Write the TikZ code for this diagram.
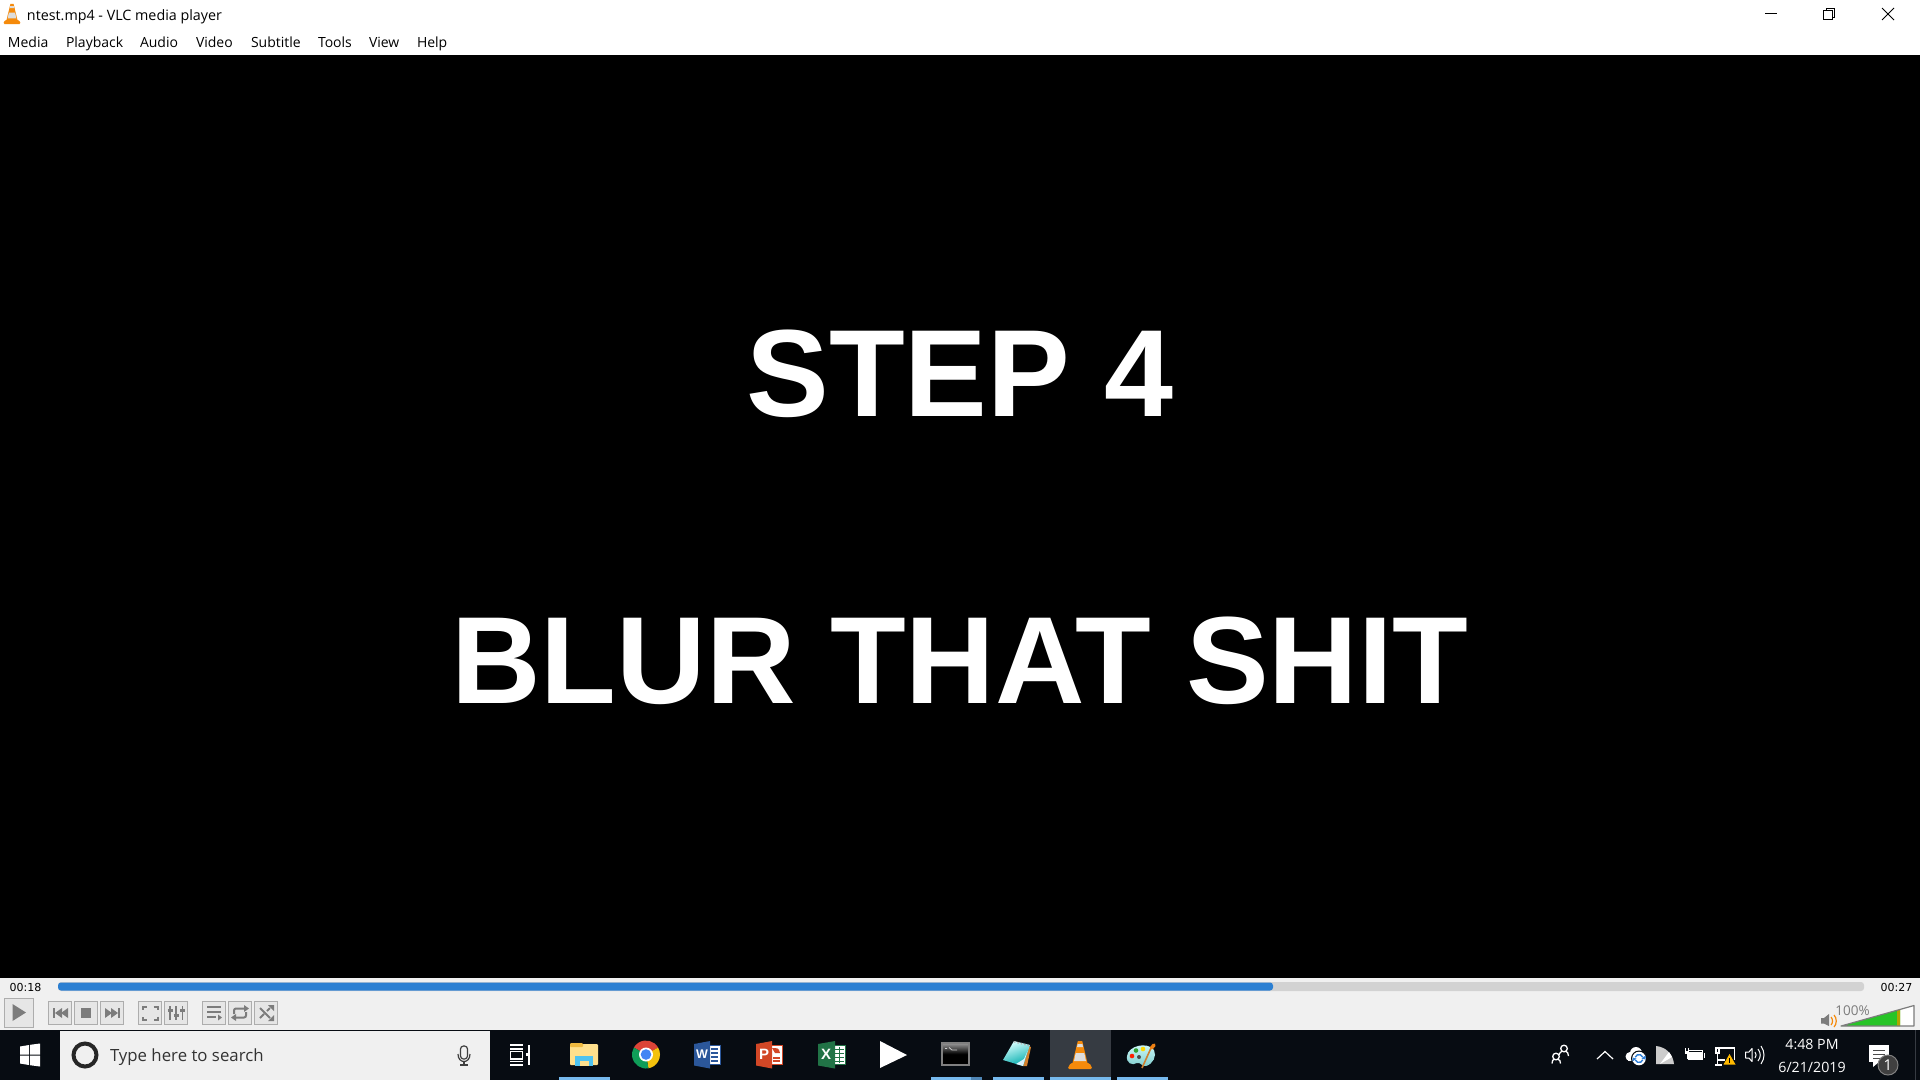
\documentclass[tikz,border=0pt]{standalone}
\usepackage{fontspec}
\setmainfont{Open Sans}
\newfontfamily\bigfont{Liberation Sans}
\newfontfamily\clockfont{DejaVu Sans}
\definecolor{panelgray}{HTML}{F0F0F0}
\definecolor{btnfill}{HTML}{E6E6E6}
\definecolor{btnline}{HTML}{ADADAD}
\definecolor{iconcol}{HTML}{7C7C7C}
\definecolor{barcol}{HTML}{070C12}
\definecolor{hilite}{HTML}{363B42}
\definecolor{underl}{HTML}{76B9ED}
\definecolor{underd}{HTML}{4F86B5}
\definecolor{blueprog}{HTML}{2B7FD2}
\definecolor{trackcol}{HTML}{D2D2D2}
\definecolor{vlcor}{HTML}{F58A0B}
\definecolor{vlcwhite}{HTML}{DDDDDD}
\definecolor{folder}{HTML}{FFE08C}
\definecolor{foldertab}{HTML}{EFB93F}
\definecolor{folderblue}{HTML}{4FC3F0}
\definecolor{wordblue}{HTML}{2B579A}
\definecolor{pptred}{HTML}{D24726}
\definecolor{xlgreen}{HTML}{217346}
\definecolor{chromered}{HTML}{DB4437}
\definecolor{chromeyellow}{HTML}{F4C20D}
\definecolor{chromegreen}{HTML}{0F9D58}
\definecolor{chromeblue}{HTML}{4285F4}
\definecolor{amber}{HTML}{FFB900}
\definecolor{volgreen}{HTML}{27C427}
\definecolor{syncblue}{HTML}{2F7FD8}
\tikzset{
  every node/.style={inner sep=0pt,outer sep=0pt},
  menuitem/.style={anchor=base west,text=black,font=\fontsize{14}{16}\selectfont},
  bigtext/.style={text=white,font=\fontsize{124}{130}\bigfont\bfseries},
  ctlbtn/.style={draw=btnline,fill=btnfill,line width=0.9pt,minimum width=23.5pt,minimum height=23.5pt},
  clock/.style={text=white,font=\fontsize{14.2}{16}\selectfont},
  trayline/.style={draw=white,line width=1.3pt,fill=none},
  vlccone/.pic={
    \fill[vlcor,rounded corners=1.5pt] (-12.5,14) -- (-9.5,8) -- (9.5,8) -- (12.5,14) -- cycle;
    \fill[vlcor] (-8,10) -- (-2.2,-14) -- (2.2,-14) -- (8,10) -- cycle;
    \fill[vlcwhite] (-4.3,-2) -- (4.3,-2) -- (6,6) -- (-6,6) -- cycle;
    \fill[vlcwhite] (-2.4,-11) -- (2.4,-11) -- (3,-8) -- (-3,-8) -- cycle;
  },
}
\begin{document}
\begin{tikzpicture}[x=1pt,y=-1pt]
\useasboundingbox (0,0) rectangle (1920,1080);
% window
\fill[white] (0,0) rectangle (1920,55);
\fill[black] (0,55) rectangle (1920,978);
\fill[panelgray] (0,978) rectangle (1920,1030);
\fill[btnline] (0,1029.5) rectangle (1920,1030.5);
\fill[barcol] (0,1030) rectangle (1920,1080);
% title bar
\pic[scale=0.72] at (12,14) {vlccone};
\node[anchor=base west,text=black,font=\fontsize{14.3}{16}\selectfont] (title) at (27,20) {ntest.mp4 - VLC media player};
\node[menuitem] (mMedia) at (8,47.5) {Media};
\node[menuitem] (mPlayback) at (66,47.5) {Playback};
\node[menuitem] (mAudio) at (140,47.5) {Audio};
\node[menuitem] (mVideo) at (196,47.5) {Video};
\node[menuitem] (mSubtitle) at (251,47.5) {Subtitle};
\node[menuitem] (mTools) at (318,47.5) {Tools};
\node[menuitem] (mView) at (369,47.5) {View};
\node[menuitem] (mHelp) at (417,47.5) {Help};
% window controls
\draw[black,line width=1pt] (1765,13.5) -- (1777,13.5);
\draw[black,line width=1pt] (1823.5,10.5) rectangle (1832.5,19.5);
\draw[black,line width=1pt] (1826,10) -- (1826,8.5) -- (1834.5,8.5) -- (1834.5,17) -- (1833,17);
\draw[black,line width=1pt] (1882,8) -- (1894,20) (1894,8) -- (1882,20);
% big text
\node[bigtext,anchor=base] (step) at (960,416.5) {STEP 4};
\node[bigtext,anchor=base] (blur) at (960,703) {BLUR THAT SHIT};
% slider
\node[anchor=center,text=black,font=\fontsize{11}{13}\clockfont] (tstart) at (25.5,987.5) {00:18};
\node[anchor=center,text=black,font=\fontsize{11}{13}\clockfont] (tend) at (1896.5,987.5) {00:27};
\fill[trackcol,rounded corners=3pt] (58,982) rectangle (1864,991);
\fill[blueprog,rounded corners=3pt] (58,982.5) rectangle (1273,990.5);
% play button
\node[draw=btnline,fill=btnfill,line width=0.9pt,minimum width=29.5pt,minimum height=29.5pt] (play) at (19,1012.7) {};
\fill[iconcol] (12.5,1004) -- (26,1012.5) -- (12.5,1021) -- cycle;
% small buttons
\node[ctlbtn] (prev) at (60,1013) {};
\node[ctlbtn] (stop) at (86,1013) {};
\node[ctlbtn] (next) at (112,1013) {};
\node[ctlbtn] (full) at (150,1013) {};
\node[ctlbtn] (eq) at (176,1013) {};
\node[ctlbtn] (plist) at (214,1013) {};
\node[ctlbtn] (loop) at (240,1013) {};
\node[ctlbtn] (shuf) at (266,1013) {};
% prev
\fill[iconcol] (53,1008) rectangle (55,1018);
\fill[iconcol] (62,1008) -- (55,1013) -- (62,1018) -- cycle;
\fill[iconcol] (68,1008) -- (61,1013) -- (68,1018) -- cycle;
% stop
\fill[iconcol] (81,1008) rectangle (91,1018);
% next
\fill[iconcol] (105,1008) -- (112,1013) -- (105,1018) -- cycle;
\fill[iconcol] (111,1008) -- (118,1013) -- (111,1018) -- cycle;
\fill[iconcol] (118,1008) rectangle (120,1018);
% fullscreen
\draw[iconcol,line width=2pt] (142.5,1009.5) -- (142.5,1006.5) -- (146.5,1006.5)
  (153.5,1006.5) -- (157.5,1006.5) -- (157.5,1009.5)
  (157.5,1016.5) -- (157.5,1019.5) -- (153.5,1019.5)
  (146.5,1019.5) -- (142.5,1019.5) -- (142.5,1016.5);
% equalizer
\draw[iconcol,line width=1.8pt] (170,1006) -- (170,1020) (176,1006) -- (176,1020) (182.5,1006) -- (182.5,1020);
\draw[iconcol,line width=3pt] (167.5,1010) -- (172.5,1010) (173.5,1015) -- (178.5,1015) (180,1010) -- (185,1010);
% playlist
\draw[iconcol,line width=2pt] (207,1007) -- (221,1007) (207,1012) -- (221,1012) (207,1017) -- (216,1017);
\fill[iconcol] (218,1014.5) -- (222,1017.5) -- (218,1020.5) -- cycle;
% loop
\draw[iconcol,line width=2pt,rounded corners=2pt] (234,1014) -- (234,1008.5) -- (245,1008.5);
\draw[iconcol,line width=2pt,rounded corners=2pt] (246,1012) -- (246,1017.5) -- (235,1017.5);
\fill[iconcol] (244,1005) -- (249,1008.5) -- (244,1012) -- cycle;
\fill[iconcol] (236,1014) -- (231,1017.5) -- (236,1021) -- cycle;
% shuffle
\draw[iconcol,line width=2pt] (260,1008) -- (270,1018) (260,1018) -- (264,1014) (267,1011) -- (270,1008);
\fill[iconcol] (268,1005) -- (274,1005) -- (274,1011) -- cycle;
\fill[iconcol] (268,1021) -- (274,1021) -- (274,1015) -- cycle;
% volume
\node[anchor=center,text=iconcol,font=\fontsize{13.5}{15}\selectfont] (volpct) at (1852.5,1011) {100\%};
\fill[white] (1841,1026) -- (1914,1005.5) -- (1914,1026) -- cycle;
\fill[volgreen] (1841,1026) -- (1900,1009.5) -- (1900,1026) -- cycle;
\fill[olive!70!yellow] (1897,1010.3) -- (1900,1009.5) -- (1900,1026) -- (1897,1026) -- cycle;
\draw[iconcol,line width=1.2pt,line join=round] (1841,1026) -- (1914,1005.5) -- (1914,1026) -- cycle;
\fill[iconcol] (1821,1018) -- (1824,1018) -- (1829,1014) -- (1829,1026) -- (1824,1023.5) -- (1821,1023.5) -- cycle;
\draw[vlcor,line width=1.2pt] (1831,1017) .. controls (1833,1019) and (1833,1023) .. (1831,1025);
\draw[vlcor,line width=1.2pt] (1834,1015) .. controls (1837,1018) and (1837,1024) .. (1834,1027);
% start + search
\fill[white] (20,1046.5) -- (29,1045) -- (29,1054.5) -- (20,1054.5) -- cycle;
\fill[white] (30,1044.8) -- (40,1043.5) -- (40,1054.5) -- (30,1054.5) -- cycle;
\fill[white] (20,1055.5) -- (29,1055.5) -- (29,1065) -- (20,1063.5) -- cycle;
\fill[white] (30,1055.5) -- (40,1055.5) -- (40,1066.5) -- (30,1065.2) -- cycle;
\fill[panelgray] (60,1030.5) rectangle (490,1080);
\draw[black!85,line width=4pt] (85,1055) circle[radius=11.5pt];
\node[anchor=base west,text=black!80,font=\fontsize{16.8}{20}\selectfont] (search) at (110,1061.5) {Type here to search};
\draw[black!75,line width=1.2pt,rounded corners=3pt] (460.5,1046) rectangle (467.5,1059);
\draw[black!75,line width=1.2pt] (458,1054) .. controls (458,1064) and (470,1064) .. (470,1054);
\draw[black!75,line width=1.2pt] (464,1062) -- (464,1065) (460,1065) -- (468,1065);
% task view
\draw[white,line width=1.2pt] (510,1045) -- (523,1045) (510,1049) -- (523,1049);
\draw[white,line width=1.2pt] (510.5,1051.5) rectangle (522.5,1059);
\draw[white,line width=1.2pt] (510,1061.5) -- (523,1061.5) (510,1065) -- (523,1065);
\draw[white,line width=1.2pt] (529,1045) -- (529,1065);
\fill[white] (526,1053) rectangle (529,1056);
% taskbar highlight & underlines
\fill[hilite] (1050,1030) rectangle (1111,1080);
\fill[underl] (559,1077) rectangle (610,1080);
\fill[underl] (931,1077) rectangle (971,1080);
\fill[underd] (971,1077) rectangle (982,1080);
\fill[underl] (993,1077) rectangle (1044,1080);
\fill[underl] (1050,1077) rectangle (1111,1080);
\fill[underl] (1117,1077) rectangle (1168,1080);
% explorer
\fill[folder,rounded corners=1pt] (570,1044) rectangle (598,1065);
\fill[foldertab,rounded corners=1pt] (570,1043) rectangle (583,1047);
\fill[folderblue] (575,1056) rectangle (593,1065.5);
\fill[folder] (579.5,1060.5) rectangle (588.5,1065.5);
% chrome
\begin{scope}[shift={(646,1054.5)}]
\fill[chromered] (0,0) -- (30:14pt) arc[start angle=30,end angle=150,radius=14pt] -- cycle;
\fill[chromeyellow] (0,0) -- (30:14pt) arc[start angle=30,end angle=-80,radius=14pt] -- cycle;
\fill[chromegreen] (0,0) -- (-80:14pt) arc[start angle=-80,end angle=-210,radius=14pt] -- cycle;
\fill[white] (0,0) circle[radius=7pt];
\fill[chromeblue] (0,0) circle[radius=5.3pt];
\end{scope}
% word
\fill[white] (706,1045) rectangle (721,1065);
\draw[wordblue,line width=0.8pt] (706,1045.4) -- (720.6,1045.4) -- (720.6,1064.6) -- (706,1064.6);
\draw[wordblue,line width=1.2pt] (711,1049) -- (718,1049) (711,1053) -- (718,1053) (711,1057) -- (718,1057) (711,1061) -- (718,1061);
\fill[wordblue] (694,1044) -- (710,1041) -- (710,1068.5) -- (694,1065.5) -- cycle;
\node[text=white,font=\fontsize{12.5}{12.5}\bigfont\bfseries] (wordw) at (702,1054.5) {W};
% powerpoint
\fill[white] (768,1045) rectangle (783,1065);
\draw[pptred,line width=0.8pt] (768,1045.4) -- (782.6,1045.4) -- (782.6,1064.6) -- (768,1064.6);
\fill[pptred] (772,1048) -- (775,1048) .. controls (779,1048) and (780,1051) .. (780,1053) -- (775,1053) -- cycle;
\draw[pptred,line width=1.2pt] (773,1058) -- (780,1058) (773,1061) -- (780,1061);
\fill[pptred] (756,1044) -- (772,1041) -- (772,1068.5) -- (756,1065.5) -- cycle;
\node[text=white,font=\fontsize{15}{15}\bigfont\bfseries] (pptp) at (764,1054.5) {P};
% excel
\fill[white] (830,1045) rectangle (846,1065);
\draw[xlgreen,line width=0.8pt] (830,1045.4) -- (845.6,1045.4) -- (845.6,1064.6) -- (830,1064.6);
\draw[xlgreen,line width=1pt] (835,1049) -- (844,1049) (835,1053) -- (844,1053) (835,1057) -- (844,1057) (835,1061) -- (844,1061) (839.5,1047) -- (839.5,1063);
\fill[xlgreen] (818,1044) -- (835,1041) -- (835,1068.5) -- (818,1065.5) -- cycle;
\node[text=white,font=\fontsize{15}{15}\bigfont\bfseries] (xlx) at (826,1054.5) {X};
% media play
\fill[white] (880,1041) -- (907,1055) -- (880,1068) -- cycle;
% cmd
\shade[top color=gray!80,bottom color=black,middle color=black] (942,1043) rectangle (969,1065);
\draw[gray,line width=1.3pt] (942,1043) rectangle (969,1065);
\draw[white!80!black,line width=0.8pt] (945,1048.5) -- (947,1048.5) (949,1047.5) -- (952,1050) -- (957,1050);
% notepad
\fill[brown!70!orange] (1026,1045) -- (1031,1047) -- (1027,1066) -- (1023,1066) -- cycle;
\shade[top color=white!85!cyan,bottom color=teal!65!cyan,shading angle=20] (1014,1041) -- (1030,1045) -- (1023,1066) -- (1003,1060) -- cycle;
\fill[white!85!cyan] (1024,1059) -- (1027.5,1051) -- (1023,1066) -- (1016,1064) -- cycle;
\draw[gray!60,line width=1.5pt,dotted] (1014,1041.8) -- (1030,1045.8);
% vlc
\pic at (1080,1055) {vlccone};
% paint
\begin{scope}[shift={(1141,1057)}]
\shade[top color=cyan!15!white,bottom color=cyan!45!gray!70!white] (-14,-1) .. controls (-13,-11) and (6,-16) .. (13,-7) .. controls (16,-1) and (12,7) .. (5,9) .. controls (1,10) and (0,5) .. (-4,6) .. controls (-9,9) and (-15,6) .. (-14,-1) -- cycle;
\fill[red!75!orange] (-9,-1) circle[radius=2.3pt];
\fill[green!55!black!80!white] (-5,-6.5) circle[radius=2.3pt];
\fill[yellow!75!orange] (2,-8) circle[radius=2.3pt];
\fill[black!70] (-2,0) circle[radius=2pt];
\draw[brown!75!orange,line width=1.6pt] (1,11) -- (10,-9);
\draw[orange!70!brown,line width=3.5pt,line cap=round] (10.5,-9) -- (13,-12);
\end{scope}
% tray: people
\draw[trayline] (1556,1056.5) circle[radius=3.3pt];
\draw[trayline] (1564,1048.5) circle[radius=3.3pt];
\draw[trayline] (1552,1063.5) .. controls (1552,1060.5) and (1553,1059.5) .. (1554,1059.5) (1558,1059.5) .. controls (1559.5,1059.5) and (1560.5,1060.5) .. (1560.5,1063.5);
\draw[trayline] (1559,1055) .. controls (1559.5,1052.5) and (1561,1051.5) .. (1562,1051.5) (1566,1051.5) .. controls (1567,1051.5) and (1568.5,1053) .. (1568.5,1056);
% chevron
\draw[white,line width=1.2pt] (1597,1059) -- (1605,1051.5) -- (1613,1059);
% cloud
\fill[white] (1630,1056.5) circle[radius=4.5pt];
\fill[white] (1636,1053) circle[radius=6pt];
\fill[white] (1642,1056) circle[radius=4pt];
\fill[white] (1628,1056) rectangle (1642,1061);
\fill[barcol] (1639,1058.5) circle[radius=8pt];
\fill[white] (1639,1058.5) circle[radius=6.8pt];
\draw[syncblue,line width=1.4pt] (1639,1058.5) ++(160:4pt) arc[start angle=160,end angle=20,radius=4pt];
\draw[syncblue,line width=1.4pt] (1639,1058.5) ++(-20:4pt) arc[start angle=-20,end angle=-160,radius=4pt];
\fill[syncblue] (1641.5,1058.5) -- (1645.5,1055.5) -- (1645.5,1059.5) -- cycle;
\fill[syncblue] (1636.5,1058.5) -- (1632.5,1061.5) -- (1632.5,1057.5) -- cycle;
% sector
\fill[white!80!black] (1656,1064) -- (1656,1046) .. controls (1666,1047) and (1673,1054) .. (1674,1064) -- cycle;
\fill[white] (1660,1064) -- (1669,1052) -- (1672,1057) -- cycle;
% battery
\fill[white] (1688,1050) rectangle (1703,1060);
\fill[barcol] (1689,1051) rectangle (1702,1052);
\fill[white] (1703.5,1052.5) rectangle (1705,1057.5);
\fill[white] (1685,1051) rectangle (1689,1054);
\draw[white,line width=1pt] (1685.7,1048) -- (1685.7,1051) (1688.3,1048) -- (1688.3,1051);
\draw[white,line width=1pt] (1687,1054) -- (1687,1058) -- (1689,1058);
% network
\draw[trayline] (1715,1048) -- (1734.5,1048) -- (1734.5,1060);
\draw[trayline] (1716,1048) rectangle (1719,1053);
\draw[trayline] (1717.5,1053) -- (1717.5,1065) (1717.5,1060) -- (1725,1060) (1715,1065) -- (1722,1065);
\fill[amber] (1729.5,1054) -- (1735.5,1064.5) -- (1723.5,1064.5) -- cycle;
\fill[black] (1729,1058) rectangle (1730,1061.5);
\fill[black] (1729,1062.3) rectangle (1730,1063.4);
% speaker
\draw[white,line width=1pt,line join=round] (1745.5,1052) -- (1749,1052) -- (1752,1048.5) -- (1752,1061.5) -- (1749,1058) -- (1745.5,1058) -- cycle;
\draw[white,line width=1pt] (1755,1052) .. controls (1756.5,1054) and (1756.5,1056) .. (1755,1058);
\draw[white,line width=1pt] (1758,1049) .. controls (1761,1053) and (1761,1057) .. (1758,1061);
\draw[white,line width=1pt] (1761,1046) .. controls (1765,1052) and (1765,1058) .. (1761,1064);
% clock
\node[clock] (time) at (1812,1044) {4:48 PM};
\node[clock] (date) at (1812,1067) {6/21/2019};
% notifications
\fill[white] (1869,1045) rectangle (1889,1062);
\fill[white] (1873,1062) -- (1879,1062) -- (1873,1067) -- cycle;
\draw[black!70,line width=1pt] (1873,1050) -- (1885,1050) (1873,1054) -- (1885,1054) (1873,1058) -- (1881,1058);
\node[circle,fill=black!75,draw=gray,line width=1pt,minimum size=20pt,text=white,font=\fontsize{15}{15}\selectfont] (badge) at (1888,1065) {1};
\fill[hilite] (1914.5,1030) rectangle (1915.5,1080);
\end{tikzpicture}
\end{document}
